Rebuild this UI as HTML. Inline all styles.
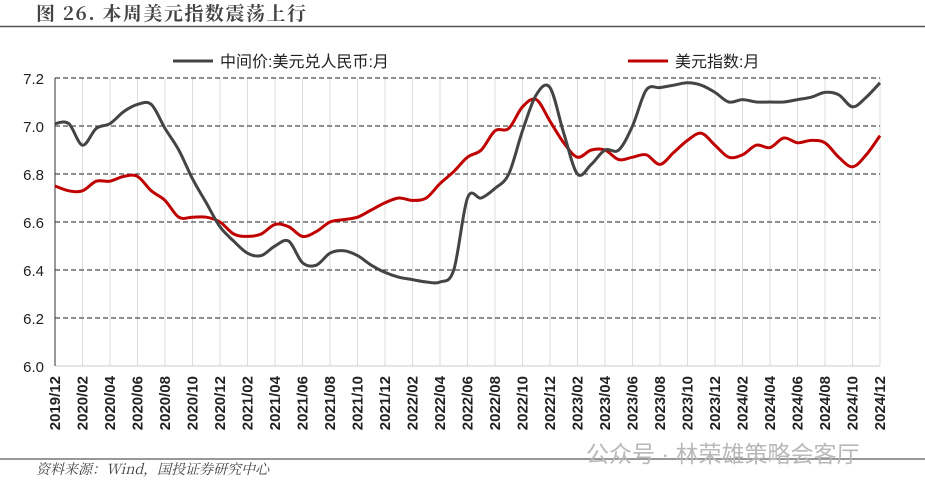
<!DOCTYPE html>
<html><head><meta charset="utf-8"><style>
body{margin:0;background:#fff;width:925px;height:489px;overflow:hidden;font-family:"Liberation Sans","Noto Sans CJK SC",sans-serif}
</style></head><body>
<svg id="s" width="925" height="489" xmlns="http://www.w3.org/2000/svg">
<text x="36" y="20" font-family="'Noto Serif CJK SC','Noto Sans CJK SC',sans-serif" font-size="19" font-weight="bold" fill="#444" letter-spacing="1.5">图 26. 本周美元指数震荡上行</text>
<line x1="0" y1="26.5" x2="925" y2="26.5" stroke="#555" stroke-width="1.5"/>
<g id="grid"></g>
<line x1="55" y1="78" x2="55" y2="366" stroke="#333" stroke-width="1"/>
<g font-size="15" fill="#222" text-anchor="end">
<text x="44" y="84">7.2</text><text x="44" y="132">7.0</text><text x="44" y="180">6.8</text><text x="44" y="228">6.6</text><text x="44" y="276">6.4</text><text x="44" y="324">6.2</text><text x="44" y="372">6.0</text>
</g>
<line x1="173" y1="61" x2="213" y2="61" stroke="#444" stroke-width="3"/>
<text x="220" y="67" font-size="16" fill="#222">中间价:美元兑人民币:月</text>
<line x1="628" y1="61" x2="668" y2="61" stroke="#c00000" stroke-width="3"/>
<text x="675" y="67" font-size="16" fill="#222">美元指数:月</text>
<path id="red" fill="none" stroke="#c00000" stroke-width="3" stroke-linejoin="round"/>
<path id="gray" fill="none" stroke="#444" stroke-width="3" stroke-linejoin="round"/>
<line x1="0" y1="459" x2="925" y2="459" stroke="#777" stroke-width="1.5"/>
<text x="36" y="474" font-size="14" font-style="italic" fill="#444" font-family="'Noto Serif CJK SC','Noto Sans CJK SC',sans-serif">资料来源：Wind，国投证券研究中心</text>
<text x="586" y="462" font-size="23" fill="#b8b8b8">公众号 · 林荣雄策略会客厅</text>
<g font-size="15" font-weight="bold" fill="#222" text-anchor="end">
<text transform="translate(60,376) rotate(-90)">2019/12</text>
<text transform="translate(87.5,376) rotate(-90)">2020/02</text>
<text transform="translate(115,376) rotate(-90)">2020/04</text>
<text transform="translate(142.5,376) rotate(-90)">2020/06</text>
<text transform="translate(170,376) rotate(-90)">2020/08</text>
<text transform="translate(197.5,376) rotate(-90)">2020/10</text>
<text transform="translate(225,376) rotate(-90)">2020/12</text>
<text transform="translate(252.5,376) rotate(-90)">2021/02</text>
<text transform="translate(280,376) rotate(-90)">2021/04</text>
<text transform="translate(307.5,376) rotate(-90)">2021/06</text>
<text transform="translate(335,376) rotate(-90)">2021/08</text>
<text transform="translate(362.5,376) rotate(-90)">2021/10</text>
<text transform="translate(390,376) rotate(-90)">2021/12</text>
<text transform="translate(417.5,376) rotate(-90)">2022/02</text>
<text transform="translate(445,376) rotate(-90)">2022/04</text>
<text transform="translate(472.5,376) rotate(-90)">2022/06</text>
<text transform="translate(500,376) rotate(-90)">2022/08</text>
<text transform="translate(527.5,376) rotate(-90)">2022/10</text>
<text transform="translate(555,376) rotate(-90)">2022/12</text>
<text transform="translate(582.5,376) rotate(-90)">2023/02</text>
<text transform="translate(610,376) rotate(-90)">2023/04</text>
<text transform="translate(637.5,376) rotate(-90)">2023/06</text>
<text transform="translate(665,376) rotate(-90)">2023/08</text>
<text transform="translate(692.5,376) rotate(-90)">2023/10</text>
<text transform="translate(720,376) rotate(-90)">2023/12</text>
<text transform="translate(747.5,376) rotate(-90)">2024/02</text>
<text transform="translate(775,376) rotate(-90)">2024/04</text>
<text transform="translate(802.5,376) rotate(-90)">2024/06</text>
<text transform="translate(830,376) rotate(-90)">2024/08</text>
<text transform="translate(857.5,376) rotate(-90)">2024/10</text>
<text transform="translate(885,376) rotate(-90)">2024/12</text>
</g>
</svg>
<script>
var NS="http://www.w3.org/2000/svg",g=document.getElementById('grid');
function el(t,a){var e=document.createElementNS(NS,t);for(var k in a)e.setAttribute(k,a[k]);g.appendChild(e);}
for(var i=1;i<=30;i++){var x=55+27.5*i;el('line',{x1:x,y1:78,x2:x,y2:366,stroke:'#ddd','stroke-width':1});}
for(var j=0;j<6;j++){var y=78+48*j;el('line',{x1:55,y1:y,x2:880,y2:y,stroke:'#222','stroke-width':1,'stroke-dasharray':'5,3'});}
el('line',{x1:55,y1:366,x2:880,y2:366,stroke:'#ccc','stroke-width':1});
var gray=[7.01,7.01,6.92,6.99,7.01,7.06,7.09,7.09,6.99,6.90,6.78,6.68,6.58,6.52,6.47,6.46,6.50,6.52,6.43,6.42,6.47,6.48,6.46,6.42,6.39,6.37,6.36,6.35,6.35,6.40,6.70,6.70,6.74,6.80,6.98,7.13,7.16,6.97,6.80,6.84,6.90,6.90,7.00,7.15,7.16,7.17,7.18,7.17,7.14,7.10,7.11,7.10,7.10,7.10,7.11,7.12,7.14,7.13,7.08,7.12,7.18];
var red=[6.75,6.73,6.73,6.77,6.77,6.79,6.79,6.73,6.69,6.62,6.62,6.62,6.60,6.55,6.54,6.55,6.59,6.58,6.54,6.56,6.60,6.61,6.62,6.65,6.68,6.70,6.69,6.70,6.76,6.81,6.87,6.90,6.98,6.99,7.08,7.11,7.02,6.93,6.87,6.90,6.90,6.86,6.87,6.88,6.84,6.89,6.94,6.97,6.92,6.87,6.88,6.92,6.91,6.95,6.93,6.94,6.93,6.87,6.83,6.88,6.96];
function path(d){var p=d.map(function(v,i){return[55+13.75*i,366-(v-6)*240];});
var s='M'+p[0][0]+','+p[0][1];
for(var i=0;i<p.length-1;i++){var p0=p[i-1]||p[i],p1=p[i],p2=p[i+1],p3=p[i+2]||p2;
s+=' C'+(p1[0]+(p2[0]-p0[0])/6)+','+(p1[1]+(p2[1]-p0[1])/6)+' '+(p2[0]-(p3[0]-p1[0])/6)+','+(p2[1]-(p3[1]-p1[1])/6)+' '+p2[0]+','+p2[1];}
return s;}
document.getElementById('gray').setAttribute('d',path(gray));
document.getElementById('red').setAttribute('d',path(red));
</script>
</body></html>
